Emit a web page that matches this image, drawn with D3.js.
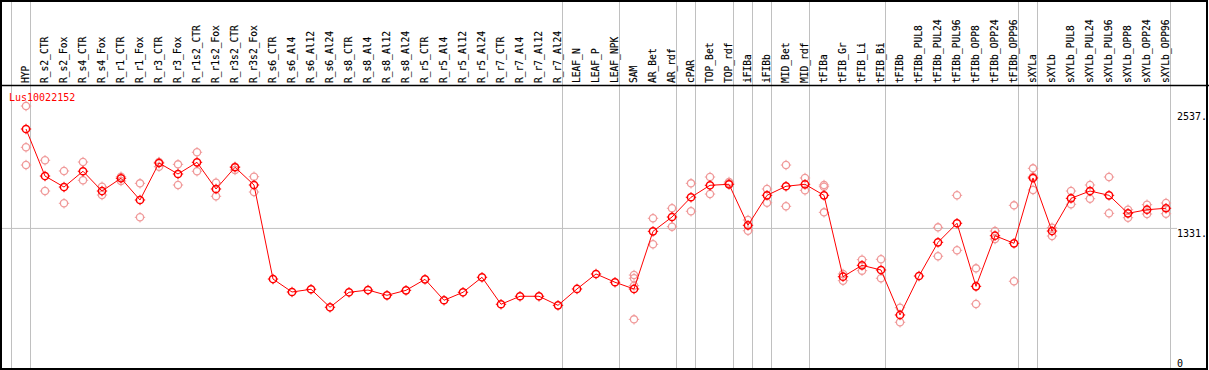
<!DOCTYPE html>
<html><head><meta charset="utf-8">
<script src="https://d3js.org/d3.v7.min.js"></script>
<style>body{margin:0;background:#fff}svg{display:block}</style>
</head><body>
<script>
const categories = ["HYP","R_s2_CTR","R_s2_Fox","R_s4_CTR","R_s4_Fox","R_r1_CTR","R_r1_Fox","R_r3_CTR","R_r3_Fox","R_r1s2_CTR","R_r1s2_Fox","R_r3s2_CTR","R_r3s2_Fox","R_s6_CTR","R_s6_Al4","R_s6_Al12","R_s6_Al24","R_s8_CTR","R_s8_Al4","R_s8_Al12","R_s8_Al24","R_r5_CTR","R_r5_Al4","R_r5_Al12","R_r5_Al24","R_r7_CTR","R_r7_Al4","R_r7_Al12","R_r7_Al24","LEAF_N","LEAF_P","LEAF_NPK","SAM","AR_Bet","AR_rdf","cPAR","TOP_Bet","TOP_rdf","iFIBa","iFIBb","MID_Bet","MID_rdf","tFIBa","tFIB_Gr","tFIB_Li","tFIB_Bi","tFIBb","tFIBb_PUL8","tFIBb_PUL24","tFIBb_PUL96","tFIBb_OPP8","tFIBb_OPP24","tFIBb_OPP96","sXYLa","sXYLb","sXYLb_PUL8","sXYLb_PUL24","sXYLb_PUL96","sXYLb_OPP8","sXYLb_OPP24","sXYLb_OPP96"];

const meanValues = [2352,1869,1756,1918,1715,1846,1623,2003,1890,2010,1736,1959,1777,811,678,706,521,675,698,644,695,808,593,675,829,552,634,634,541,709,863,778,709,1301,1448,1651,1774,1784,1363,1671,1764,1784,1671,835,952,904,442,842,1188,1384,736,1256,1178,1849,1304,1640,1715,1671,1486,1523,1538];

const replicateValues = [
 [2588,2164,1982],[2031,1715],[1921,1589],[2013,1825],[1759,1674],[1862,1818],[1794,1445],[2013,1965],[1989,1777],[2113,1918],[1801,1661],[1965,1931],[1862,1705],
 [],[],[],[],[],[],[],[],[],[],[],[],[],[],[],[],[],[],[],
 [852,819,743,397],[1435,1168],[1538,1349],[1794,1507],[1859,1684],[1808,1794],[1417,1307],[1736,1595],[1982,1558],[1849,1722],[1777,1759,1496],
 [863,794],[1010,897],[1014,819],[517,367],[],[1342,1045],[1671,1106],[921,555],[1304,1222],[1568,788],
 [1948,1862,1726],[1338,1253],[1715,1579],[1777,1636],[1859,1486],[1523,1441],[1575,1479],[1592,1482]
];

const groupEnds = ["HYP","R_r7_Al24","LEAF_NPK","AR_rdf","cPAR","TOP_rdf","iFIBa","iFIBb","MID_rdf","tFIB_Bi","tFIBb_OPP96","sXYLa","sXYLb_OPP96"];
const yTickValues = [0,1331,2537];
const yTickLabels = ["0","1331.","2537."];
const geneName = "Lus10022152";

const W = 1209, H = 370;
const svg = d3.select("body").append("svg").attr("width", W).attr("height", H);
const font = "'DejaVu Sans Mono', monospace";

const x = d3.scalePoint().domain(categories).range([26, 1166]).padding(0);
const step = x.step();
const y = d3.scaleLinear().domain([0, 2537]).range([358, 111]);

// separators
const sepX = [x(categories[0]) - step + 4.5].concat(groupEnds.map(c => x(c) + 4.5));
svg.selectAll("line.sep").data(sepX).enter().append("line")
  .attr("x1", d => d).attr("x2", d => d).attr("y1", 0).attr("y2", H)
  .attr("stroke", "#c0c0c0").attr("stroke-width", 1);

// mid gray horizontal line
svg.append("line").attr("x1", 0).attr("x2", 1177).attr("y1", y(1331)).attr("y2", y(1331))
  .attr("stroke", "#c0c0c0").attr("stroke-width", 1);

// frame
svg.append("rect").attr("x", 1).attr("y", 1).attr("width", 1206).attr("height", 368)
  .attr("fill", "none").attr("stroke", "#000").attr("stroke-width", 2);
svg.append("line").attr("x1", 0).attr("x2", W).attr("y1", 85.5).attr("y2", 85.5)
  .attr("stroke", "#000").attr("stroke-width", 1.5);

// header labels
svg.selectAll("text.cat").data(categories).enter().append("text")
  .attr("transform", d => `translate(${x(d) + 3.1},83) rotate(-90)`)
  .attr("font-family", font).attr("font-size", "9.6px").attr("fill", "#000")
  .attr("stroke", "#000").attr("stroke-width", 0.15)
  .text(d => d);

// y tick labels
svg.selectAll("text.yt").data(yTickValues).enter().append("text")
  .attr("x", 1177).attr("y", (d) => y(d) + 8.5)
  .attr("font-family", font).attr("font-size", "10px").attr("fill", "#000")
  .text((d, i) => yTickLabels[i]);

// gene name
svg.append("text").attr("x", 9).attr("y", 101).attr("font-family", font)
  .attr("font-size", "10px").attr("fill", "#f00").text(geneName);

function marker(g, cx, cy, color, sw) {
  g.append("circle").attr("cx", cx).attr("cy", cy).attr("r", 3.6)
    .attr("fill", "none").attr("stroke", color).attr("stroke-width", sw);
  [[0,-1],[0,1],[-1,0],[1,0]].forEach(([dx,dy]) => {
    g.append("line").attr("x1", cx + dx*3.6).attr("y1", cy + dy*3.6)
      .attr("x2", cx + dx*5.2).attr("y2", cy + dy*5.2)
      .attr("stroke", color).attr("stroke-width", 1);
  });
}

// replicates
const repG = svg.append("g");
categories.forEach((c, i) => {
  replicateValues[i].forEach(v => marker(repG, x(c), y(v), "#f09a9a", 1.3));
});

// line
const line = d3.line().x((d, i) => x(categories[i])).y(d => y(d));
svg.append("path").datum(meanValues).attr("d", line)
  .attr("fill", "none").attr("stroke", "#f00").attr("stroke-width", 1);

// main markers
const mainG = svg.append("g");
categories.forEach((c, i) => marker(mainG, x(c), y(meanValues[i]), "#f00", 1.5));
</script>
</body></html>
